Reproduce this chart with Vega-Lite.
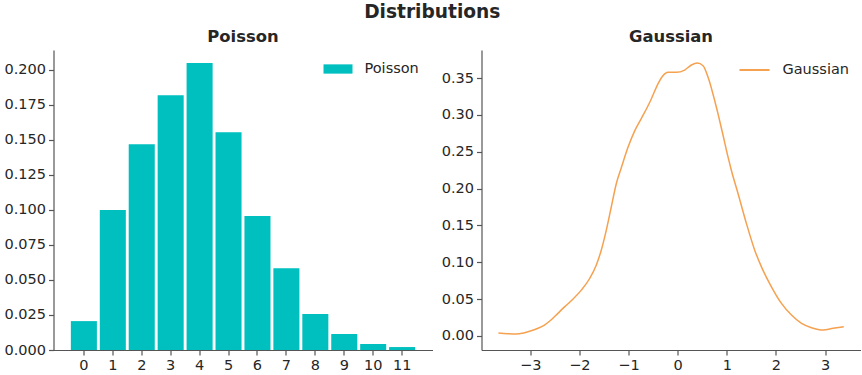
{
  "$schema": "https://vega.github.io/schema/vega-lite/v6.json",
  "background": "white",
  "padding": {"left": 3.5, "top": 3, "right": 3, "bottom": 3},
  "title": {"text": "Distributions", "fontSize": 18.6, "font": "DejaVu Sans", "fontWeight": "bold", "color": "#262626", "anchor": "middle", "offset": 7},
  "spacing": 8,
  "resolve": {"scale": {"fill": "independent", "stroke": "independent"}, "legend": {"fill": "independent", "stroke": "independent"}},
  "config": {
    "font": "DejaVu Sans",
    "view": {"stroke": null},
    "title": {"font": "DejaVu Sans", "color": "#262626"},
    "axis": {"grid": false, "labelFont": "DejaVu Sans", "labelFontSize": 14.5, "labelColor": "#262626", "domainColor": "#555555", "tickColor": "#555555", "tickSize": 5, "labelPadding": 3, "domainWidth": 1.2, "tickWidth": 1.2},
    "legend": {"labelFont": "DejaVu Sans", "labelFontSize": 14.5, "labelColor": "#262626", "labelOffset": 12, "padding": 0}
  },
  "datasets": {
    "poisson": [
      {"k": 0, "p": 0.0206, "series": "Poisson"},
      {"k": 1, "p": 0.0998, "series": "Poisson"},
      {"k": 2, "p": 0.1468, "series": "Poisson"},
      {"k": 3, "p": 0.1817, "series": "Poisson"},
      {"k": 4, "p": 0.2048, "series": "Poisson"},
      {"k": 5, "p": 0.1554, "series": "Poisson"},
      {"k": 6, "p": 0.0955, "series": "Poisson"},
      {"k": 7, "p": 0.0584, "series": "Poisson"},
      {"k": 8, "p": 0.0257, "series": "Poisson"},
      {"k": 9, "p": 0.0114, "series": "Poisson"},
      {"k": 10, "p": 0.0043, "series": "Poisson"},
      {"k": 11, "p": 0.0021, "series": "Poisson"}
    ],
    "gauss": [
      {"x": -3.645, "density": 0.0041, "series": "Gaussian"},
      {"x": -3.46, "density": 0.0032, "series": "Gaussian"},
      {"x": -3.285, "density": 0.0027, "series": "Gaussian"},
      {"x": -3.13, "density": 0.0042, "series": "Gaussian"},
      {"x": -2.98, "density": 0.0070, "series": "Gaussian"},
      {"x": -2.84, "density": 0.0105, "series": "Gaussian"},
      {"x": -2.71, "density": 0.0149, "series": "Gaussian"},
      {"x": -2.57, "density": 0.0220, "series": "Gaussian"},
      {"x": -2.436, "density": 0.0307, "series": "Gaussian"},
      {"x": -2.30, "density": 0.0395, "series": "Gaussian"},
      {"x": -2.165, "density": 0.0478, "series": "Gaussian"},
      {"x": -1.96, "density": 0.0622, "series": "Gaussian"},
      {"x": -1.79, "density": 0.0780, "series": "Gaussian"},
      {"x": -1.656, "density": 0.0960, "series": "Gaussian"},
      {"x": -1.554, "density": 0.1164, "series": "Gaussian"},
      {"x": -1.452, "density": 0.1434, "series": "Gaussian"},
      {"x": -1.35, "density": 0.1750, "series": "Gaussian"},
      {"x": -1.248, "density": 0.2066, "series": "Gaussian"},
      {"x": -1.147, "density": 0.2280, "series": "Gaussian"},
      {"x": -1.01, "density": 0.2560, "series": "Gaussian"},
      {"x": -0.876, "density": 0.2780, "series": "Gaussian"},
      {"x": -0.74, "density": 0.2950, "series": "Gaussian"},
      {"x": -0.62, "density": 0.3100, "series": "Gaussian"},
      {"x": -0.536, "density": 0.3216, "series": "Gaussian"},
      {"x": -0.40, "density": 0.3420, "series": "Gaussian"},
      {"x": -0.30, "density": 0.3530, "series": "Gaussian"},
      {"x": -0.196, "density": 0.3577, "series": "Gaussian"},
      {"x": -0.03, "density": 0.3577, "series": "Gaussian"},
      {"x": 0.143, "density": 0.3608, "series": "Gaussian"},
      {"x": 0.28, "density": 0.3676, "series": "Gaussian"},
      {"x": 0.40, "density": 0.3703, "series": "Gaussian"},
      {"x": 0.517, "density": 0.3667, "series": "Gaussian"},
      {"x": 0.62, "density": 0.3510, "series": "Gaussian"},
      {"x": 0.72, "density": 0.3280, "series": "Gaussian"},
      {"x": 0.823, "density": 0.3010, "series": "Gaussian"},
      {"x": 0.925, "density": 0.2720, "series": "Gaussian"},
      {"x": 1.026, "density": 0.2426, "series": "Gaussian"},
      {"x": 1.094, "density": 0.2246, "series": "Gaussian"},
      {"x": 1.23, "density": 0.1930, "series": "Gaussian"},
      {"x": 1.40, "density": 0.1525, "series": "Gaussian"},
      {"x": 1.568, "density": 0.1164, "series": "Gaussian"},
      {"x": 1.705, "density": 0.0938, "series": "Gaussian"},
      {"x": 1.908, "density": 0.0667, "series": "Gaussian"},
      {"x": 2.112, "density": 0.0442, "series": "Gaussian"},
      {"x": 2.316, "density": 0.0284, "series": "Gaussian"},
      {"x": 2.52, "density": 0.0171, "series": "Gaussian"},
      {"x": 2.723, "density": 0.0113, "series": "Gaussian"},
      {"x": 2.96, "density": 0.0081, "series": "Gaussian"},
      {"x": 3.165, "density": 0.0104, "series": "Gaussian"},
      {"x": 3.38, "density": 0.0126, "series": "Gaussian"}
    ]
  },
  "hconcat": [
    {
      "width": 379,
      "height": 300,
      "title": {"text": "Poisson", "fontSize": 16.4, "fontWeight": "bold", "offset": 5},
      "data": {"name": "poisson"},
      "mark": {"type": "bar"},
      "encoding": {
        "x": {"field": "k", "type": "ordinal", "scale": {"paddingInner": 0.1, "paddingOuter": 0.6}, "axis": {"labelAngle": 0, "title": null}},
        "y": {"field": "p", "type": "quantitative", "scale": {"domain": [0, 0.214], "nice": false, "zero": true}, "axis": {"values": [0, 0.025, 0.05, 0.075, 0.1, 0.125, 0.15, 0.175, 0.2], "format": ".3f", "title": null}},
        "fill": {"field": "series", "type": "nominal", "scale": {"range": ["#00BFBF"]}, "legend": {"title": null, "orient": "none", "legendX": 270, "legendY": 4.5, "symbolType": "M-1,-0.32H1V0.32H-1Z", "symbolSize": 841, "symbolStrokeWidth": 0, "symbolOpacity": 1}}
      }
    },
    {
      "width": 379,
      "height": 300,
      "title": {"text": "Gaussian", "fontSize": 16.4, "fontWeight": "bold", "offset": 5},
      "data": {"name": "gauss"},
      "mark": {"type": "line", "interpolate": "monotone", "strokeWidth": 1.5},
      "encoding": {
        "x": {"field": "x", "type": "quantitative", "scale": {"domain": [-3.99, 3.72], "nice": false, "zero": false}, "axis": {"values": [-3, -2, -1, 0, 1, 2, 3], "format": "d", "title": null}},
        "y": {"field": "density", "type": "quantitative", "scale": {"domain": [-0.019, 0.388], "nice": false, "zero": false}, "axis": {"values": [0, 0.05, 0.1, 0.15, 0.2, 0.25, 0.3, 0.35], "format": ".2f", "title": null}},
        "stroke": {"field": "series", "type": "nominal", "scale": {"range": ["#F5A150"]}, "legend": {"title": null, "orient": "none", "legendX": 257, "legendY": 4, "symbolType": "stroke", "symbolSize": 900, "symbolStrokeWidth": 2}}
      }
    }
  ]
}
